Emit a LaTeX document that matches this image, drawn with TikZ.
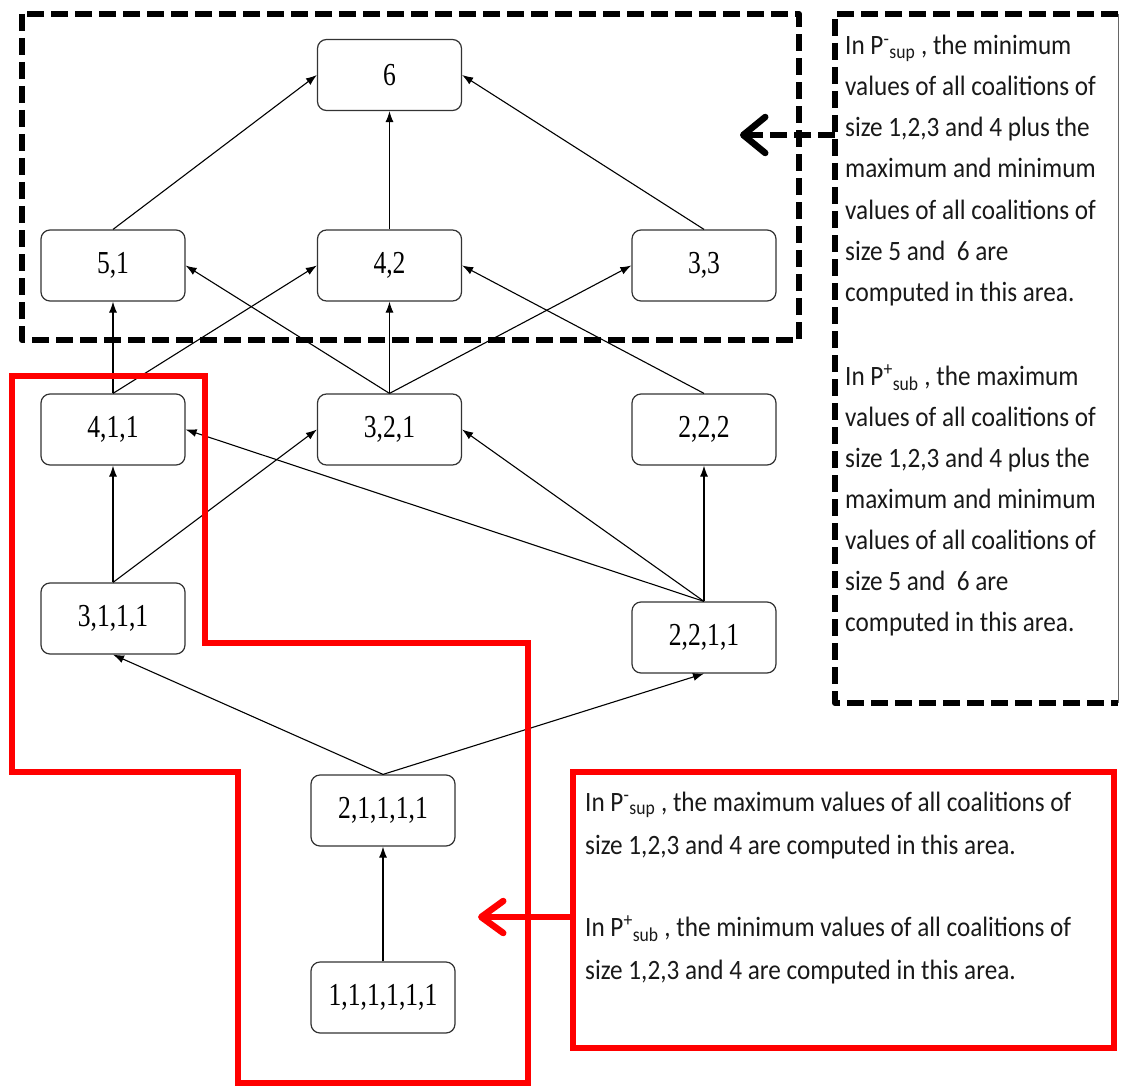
\documentclass[tikz,border=0pt]{standalone}
\usepackage{fontspec}
\setmainfont{Carlito}
\newfontfamily\nodefont[FakeStretch=0.8]{Liberation Serif}
\newfontfamily\notefont[FakeStretch=0.9]{Carlito}
\usetikzlibrary{arrows.meta}
\begin{document}
\begin{tikzpicture}[x=1pt,y=-1pt,
  box/.style={draw=black!80, line width=1.2pt, rounded corners=9pt, minimum width=144pt, minimum height=71pt, inner sep=0pt, fill=white, font=\nodefont\fontsize{32}{32}\selectfont},
  edge/.style={line width=1.1pt, black, -{Latex[length=11pt,width=8pt]}},
  note/.style={anchor=base west, inner sep=0pt, font=\notefont\fontsize{28}{28}\selectfont, text=black!90},
  blackframe/.style={line width=6pt, dash pattern=on 17pt off 7pt, line join=round},
  redframe/.style={line width=6.5pt, draw=red, line join=miter}]
\useasboundingbox (0,0) rectangle (1121,1086);

% nodes
\node[box] (n6) at (389.5,75) {6};
\node[box] (n51) at (113,265.5) {5,1};
\node[box] (n42) at (389.5,265.5) {4,2};
\node[box] (n33) at (704,265.5) {3,3};
\node[box] (n411) at (113,429.5) {4,1,1};
\node[box] (n321) at (389.5,429.5) {3,2,1};
\node[box] (n222) at (704,429.5) {2,2,2};
\node[box] (n3111) at (113,618.5) {3,1,1,1};
\node[box] (n2211) at (704,637.5) {2,2,1,1};
\node[box] (n21111) at (383,810.5) {2,1,1,1,1};
\node[box] (n111111) at (383,997.5) {1,1,1,1,1,1};

% edges
\draw[edge] (n51.north) -- (n6.west);
\draw[edge] (n42.north) -- (n6.south);
\draw[edge] (n33.north) -- (n6.east);
\draw[edge] (n411.north) -- (n51.south);
\draw[edge] (n411.north) -- (n42.west);
\draw[edge] (n321.north) -- (n51.east);
\draw[edge] (n321.north) -- (n42.south);
\draw[edge] (n321.north) -- (n33.west);
\draw[edge] (n222.north) -- (n42.east);
\draw[edge] (n3111.north) -- (n411.south);
\draw[edge] (n3111.north) -- (n321.west);
\draw[edge] (n2211.north) -- (n411.east);
\draw[edge] (n2211.north) -- (n321.east);
\draw[edge] (n2211.north) -- (n222.south);
\draw[edge] (n21111.north) -- (n3111.south);
\draw[edge] (n21111.north) -- (n2211.south);
\draw[edge] (n111111.north) -- (n21111.south);

% black dashed frames
\draw[blackframe] (22,14) rectangle (799,340);
\draw[blackframe] (1118,14) -- (835,14) -- (835,703) -- (1118,703);
\draw[line width=1pt, black!60] (1118,14) -- (1118,703);

% red frames
\draw[redframe] (12,376) -- (205,376) -- (205,643) -- (528,643) -- (528,1083) -- (238,1083) -- (238,772) -- (12,772) -- cycle;
\draw[redframe] (573,772) rectangle (1114,1048);

% arrows from notes
\coordinate (bsrc) at (835,135);
\coordinate (btip) at (740,135);
\draw[line width=6.5pt, dash pattern=on 17pt off 7pt, -{Straight Barb[length=22pt,width=36pt,line cap=round,line join=round]}] (bsrc) -- (btip);
\coordinate (rsrc) at (573,917);
\coordinate (rtip) at (478,917);
\draw[line width=6.5pt, red, -{Straight Barb[length=22pt,width=32pt,line cap=round,line join=round]}] (rsrc) -- (rtip);

% notes in the black box
\foreach \t [count=\i] in {{In P\textsuperscript{-}\textsubscript{sup} , the minimum},{values of all coalitions of},{size 1,2,3 and 4 plus the},{maximum and minimum},{values of all coalitions of},{size 5 and\ \ 6 are},{computed in this area.}}
  \node[note] (a\i) at (845,{55+41*(\i-1)}) {\t};
\foreach \t [count=\i] in {{In P\textsuperscript{+}\textsubscript{sub} , the maximum},{values of all coalitions of},{size 1,2,3 and 4 plus the},{maximum and minimum},{values of all coalitions of},{size 5 and\ \ 6 are},{computed in this area.}}
  \node[note] (b\i) at (845,{385+41*(\i-1)}) {\t};

% notes in the red box
\node[note] (c1) at (585,811) {In P\textsuperscript{-}\textsubscript{sup} , the maximum values of all coalitions of};
\node[note] (c2) at (585,854) {size 1,2,3 and 4 are computed in this area.};
\node[note] (c3) at (585,936) {In P\textsuperscript{+}\textsubscript{sub} , the minimum values of all coalitions of};
\node[note] (c4) at (585,979) {size 1,2,3 and 4 are computed in this area.};
\end{tikzpicture}
\end{document}
